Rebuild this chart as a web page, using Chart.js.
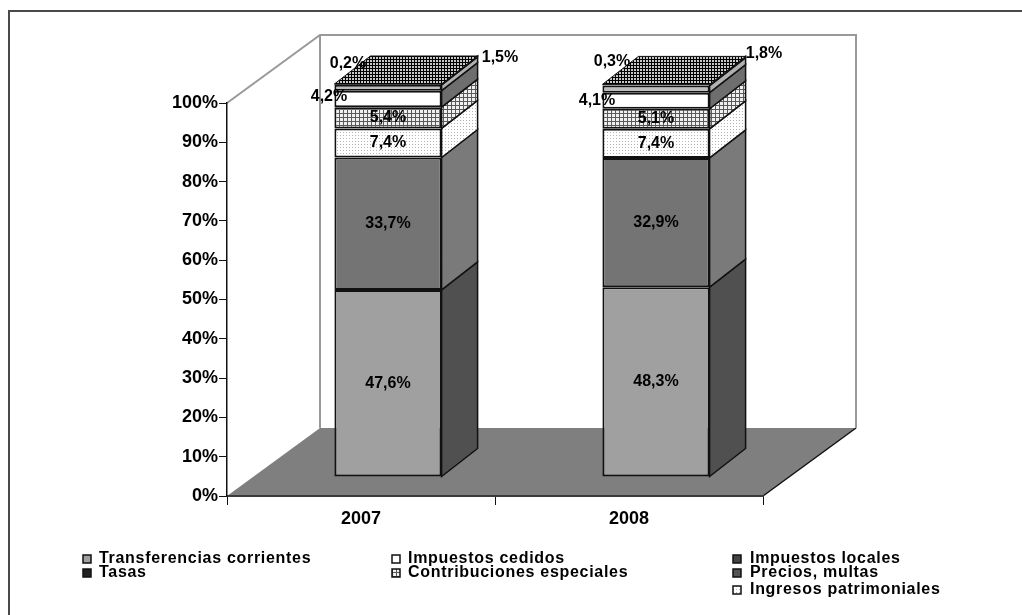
<!DOCTYPE html>
<html>
<head>
<meta charset="utf-8">
<title>Ingresos 2007-2008</title>
<script src="https://cdn.jsdelivr.net/npm/chart.js@4"></script>
<style>
  html, body { margin: 0; padding: 0; background: #fff; }
  canvas { display: block; }
</style>
</head>
<body>
<canvas id="c" width="1022" height="615"></canvas>
<script>
const years = ['2007', '2008']
const yTicks = [0, 10, 20, 30, 40, 50, 60, 70, 80, 90, 100]

const transferencias = [47.6, 48.3]
const impuestosLocales = [33.7, 32.9]
const ingresosPatrimoniales = [7.4, 7.4]
const precios = [5.4, 5.1]
const impuestosCedidos = [4.2, 4.1]
const contribuciones = [1.5, 1.8]
const tasas = [0.2, 0.3]

// legend reads left to right, row by row
const legendRows = [
  ['Transferencias corrientes', 'Impuestos cedidos', 'Impuestos locales'],
  ['Tasas', 'Contribuciones especiales', 'Precios, multas'],
  [null, null, 'Ingresos patrimoniales']
]

function pattern(size, bg, ink, cells) {
  let p = document.createElement('canvas')
  p.width = p.height = size
  let g = p.getContext('2d')
  g.fillStyle = bg
  g.fillRect(0, 0, size, size)
  g.fillStyle = ink
  cells.forEach(c => g.fillRect(c[0], c[1], c[2], c[3]))
  return document.createElement('canvas').getContext('2d').createPattern(p, 'repeat')
}

const dots = pattern(3, '#ffffff', '#b4b4b4', [[1, 1, 1, 1]])
const mesh = pattern(4, '#f0f0f0', '#5a5a5a', [[0, 0, 4, 1], [0, 0, 1, 4]])
const darkDots = pattern(3, '#c8c8c8', '#000000', [[0, 0, 3, 1], [0, 0, 1, 3]])

const series = [
  { label: 'Transferencias corrientes', data: transferencias, front: '#a0a0a0', side: '#505050' },
  { label: 'Impuestos locales', data: impuestosLocales, front: '#747474', side: '#7a7a7a' },
  { label: 'Ingresos patrimoniales', data: ingresosPatrimoniales, front: dots, side: dots },
  { label: 'Precios, multas', data: precios, front: mesh, side: mesh },
  { label: 'Impuestos cedidos', data: impuestosCedidos, front: '#ffffff', side: '#6e6e6e' },
  { label: 'Contribuciones especiales', data: contribuciones, front: '#bdbdbd', side: '#b0b0b0' },
  { label: 'Tasas', data: tasas, front: darkDots, side: darkDots }
]

// how far the 3D box is pushed: bars sit inside the floor, walls at the back
const barShift = { x: 27, y: -19 }
const barDepth = { x: 36, y: -28 }
const wallDepth = { x: 93, y: -68 }

// labels that don't sit in the middle of their segment, by dataset then year
const labelNudge = {
  4: [[-59, -2], [-59, 0]],
  5: [[112, -30], [108, -36]],
  6: [[-40, -21], [-44, -23]]
}

function poly(ctx, pts, fill, stroke, lw) {
  ctx.beginPath()
  pts.forEach((p, i) => i ? ctx.lineTo(p[0], p[1]) : ctx.moveTo(p[0], p[1]))
  ctx.closePath()
  if (fill) { ctx.fillStyle = fill; ctx.fill() }
  if (stroke) { ctx.strokeStyle = stroke; ctx.lineWidth = lw || 1; ctx.stroke() }
}

function line(ctx, pts, color, lw) {
  ctx.beginPath()
  pts.forEach((p, i) => i ? ctx.lineTo(p[0], p[1]) : ctx.moveTo(p[0], p[1]))
  ctx.strokeStyle = color
  ctx.lineWidth = lw
  ctx.stroke()
}

const box3d = {
  id: 'box3d',
  beforeDraw(chart) {
    let ctx = chart.ctx
    let a = chart.chartArea
    let d = wallDepth
    ctx.save()
    // picture frame, open on the right and at the bottom
    line(ctx, [[9, 615], [9, 11], [1022, 11]], '#4a4a4a', 2)
    // floor
    poly(ctx, [[a.left, a.bottom], [a.left + d.x, a.bottom + d.y], [a.right + d.x, a.bottom + d.y], [a.right, a.bottom]], '#7f7f7f')
    line(ctx, [[a.right, a.bottom], [a.right + d.x, a.bottom + d.y]], '#111', 1.5)
    // walls
    line(ctx, [[a.left, a.top], [a.left + d.x, a.top + d.y], [a.right + d.x, a.top + d.y], [a.right + d.x, a.bottom + d.y]], '#999', 2)
    line(ctx, [[a.left + d.x, a.top + d.y], [a.left + d.x, a.bottom + d.y]], '#999', 2)
    ctx.restore()
  },
  beforeDatasetsDraw(chart) {
    let ctx = chart.ctx
    let d = barDepth
    ctx.save()
    ctx.translate(barShift.x, barShift.y)
    series.forEach((s, i) => {
      chart.getDatasetMeta(i).data.forEach(bar => {
        let r = bar.x + bar.width / 2
        poly(ctx, [[r, bar.base], [r + d.x, bar.base + d.y], [r + d.x, bar.y + d.y], [r, bar.y]], s.side, '#111', 1.5)
        if (i === series.length - 1) {
          let l = bar.x - bar.width / 2
          poly(ctx, [[l, bar.y], [l + d.x, bar.y + d.y], [r + d.x, bar.y + d.y], [r, bar.y]], s.side, '#111', 1)
        }
      })
    })
    // stays translated so the bars land on the floor, popped in afterDatasetsDraw
  },
  afterDatasetsDraw(chart) {
    let ctx = chart.ctx
    ctx.font = 'bold 16px "Liberation Sans"'
    ctx.textAlign = 'center'
    ctx.textBaseline = 'middle'
    ctx.fillStyle = '#000'
    series.forEach((s, i) => {
      chart.getDatasetMeta(i).data.forEach((bar, j) => {
        let nudge = labelNudge[i] ? labelNudge[i][j] : [0, 0]
        let text = s.data[j].toFixed(1).replace('.', ',') + '%'
        ctx.fillText(text, bar.x + nudge[0], (bar.y + bar.base) / 2 + nudge[1])
      })
    })
    ctx.restore()
  },
  afterDraw(chart) {
    let ctx = chart.ctx
    let swatchX = [83, 392, 733]
    let textX = [99, 408, 750]
    let rowY = [559, 573, 590]
    ctx.save()
    ctx.font = 'bold 16px "Liberation Sans"'
    ctx.letterSpacing = '0.7px'
    ctx.textAlign = 'left'
    ctx.textBaseline = 'middle'
    legendRows.forEach((row, r) => {
      row.forEach((name, c) => {
        if (!name) return
        let s = series.find(x => x.label === name)
        let fill = s.front
        if (name === 'Tasas') fill = '#222'
        if (name === 'Impuestos locales') fill = '#444'
        if (name === 'Precios, multas') fill = '#555'
        if (name === 'Contribuciones especiales') fill = mesh
        poly(ctx, [[swatchX[c], rowY[r] - 4], [swatchX[c] + 8, rowY[r] - 4], [swatchX[c] + 8, rowY[r] + 4], [swatchX[c], rowY[r] + 4]], fill, '#111', 1.5)
        ctx.fillStyle = '#000'
        ctx.fillText(name, textX[c], rowY[r])
      })
    })
    ctx.restore()
  }
}

new Chart(document.getElementById('c').getContext('2d'), {
  type: 'bar',
  data: {
    labels: years,
    datasets: series.map(s => ({
      label: s.label,
      data: s.data,
      backgroundColor: s.front,
      borderColor: '#111',
      borderWidth: 2,
      borderSkipped: false,
      categoryPercentage: 1,
      barPercentage: 0.4
    }))
  },
  options: {
    responsive: false,
    animation: false,
    layout: { padding: { left: 0, right: 259, top: 103, bottom: 0 } },
    plugins: { legend: { display: false }, tooltip: { enabled: false } },
    scales: {
      x: {
        stacked: true,
        afterFit: s => { s.height = 119 },
        border: { color: '#3a3a3a', width: 2 },
        grid: { offset: true, drawOnChartArea: false, color: '#111', tickLength: 9 },
        ticks: { color: '#000', padding: 3, font: { family: '"Liberation Sans"', size: 18, weight: 'bold' } }
      },
      y: {
        stacked: true,
        min: 0,
        max: 100,
        afterFit: s => { s.width = 227 },
        afterBuildTicks: s => { s.ticks = yTicks.map(v => ({ value: v })) },
        border: { color: '#111', width: 1.5 },
        grid: { drawOnChartArea: false, color: '#111', tickLength: 8 },
        ticks: {
          color: '#000',
          padding: 1,
          font: { family: '"Liberation Sans"', size: 18, weight: 'bold' },
          callback: v => v + '%'
        }
      }
    }
  },
  plugins: [box3d]
})
</script>
</body>
</html>
